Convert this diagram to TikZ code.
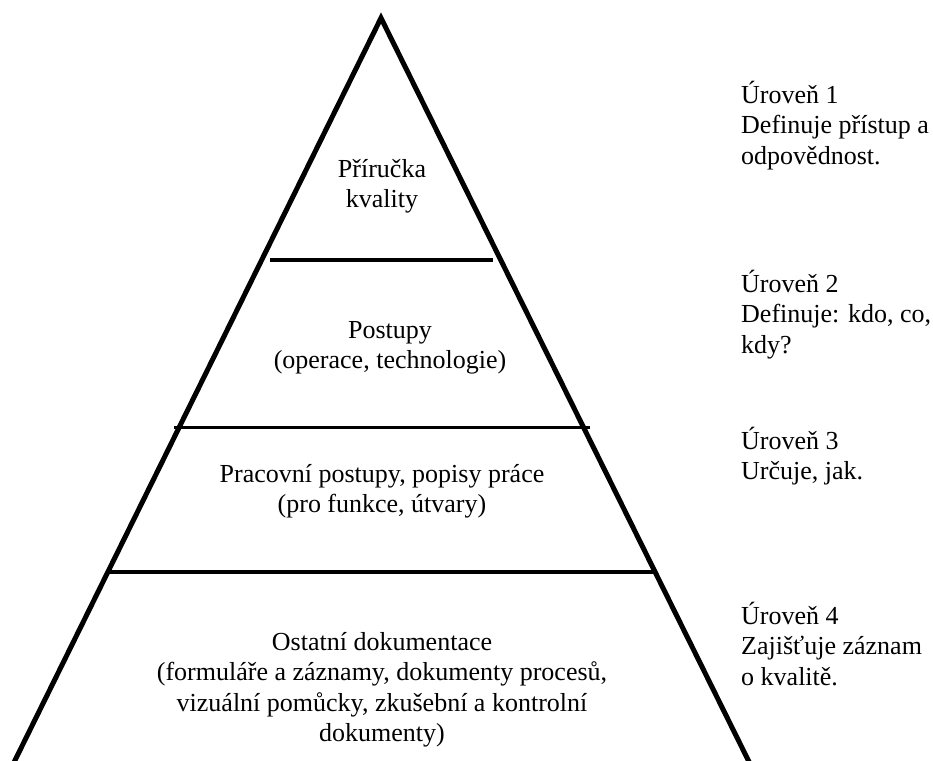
\documentclass[tikz,border=0pt]{standalone}
\usepackage{fontspec}
\setmainfont{Liberation Serif}
\begin{document}
\begin{tikzpicture}[x=1pt,y=-1pt,
  edge/.style={line width=5pt,line join=miter},
  divider/.style={line width=4pt},
  tiertext/.style={anchor=base,inner sep=0pt,font=\fontsize{26}{30.5}\selectfont},
  sidetext/.style={anchor=base west,inner sep=0pt,font=\fontsize{26}{30.5}\selectfont}]
\useasboundingbox (0,0) rectangle (933,760);
\begin{scope}
\clip (0,0) rectangle (933,760);
% pyramid outline (base runs past the lower edge)
\coordinate (apex) at (381,18);
\coordinate (baseL) at (5.3,780);
\coordinate (baseR) at (758,780);
\draw[edge] (baseL) -- (apex) -- (baseR);
\end{scope}
% tier dividers
\coordinate (d1l) at (270,259.5); \coordinate (d1r) at (493,259.5);
\coordinate (d2l) at (174,427.5); \coordinate (d2r) at (590,427.5);
\coordinate (d3l) at (110,572);   \coordinate (d3r) at (655,572);
\draw[divider] (d1l) -- (d1r);
\draw[divider,line width=3.6pt] (d2l) -- (d2r);
\draw[divider] (d3l) -- (d3r);
% tier labels
\node[tiertext] (t1) at (382,177) {\parbox[t]{600pt}{\centering Příručka\\kvality}};
\node[tiertext] (t2) at (390,338) {\parbox[t]{600pt}{\centering Postupy\\(operace, technologie)}};
\node[tiertext] (t3) at (382,482) {\parbox[t]{600pt}{\centering Pracovní postupy, popisy práce\\(pro funkce, útvary)}};
\node[tiertext] (t4) at (382,650) {\parbox[t]{600pt}{\centering Ostatní dokumentace\\(formuláře a záznamy, dokumenty procesů,\\vizuální pomůcky, zkušební a kontrolní\\dokumenty)}};
% level descriptions
\node[sidetext] (s1) at (741,103) {\parbox[t]{200pt}{\raggedright Úroveň 1\\Definuje přístup a\\odpovědnost.}};
\node[sidetext] (s2) at (741,292) {\parbox[t]{200pt}{\raggedright Úroveň 2\\Definuje: kdo, co,\\kdy?}};
\node[sidetext] (s3) at (741,449) {\parbox[t]{200pt}{\raggedright Úroveň 3\\Určuje, jak.}};
\node[sidetext] (s4) at (741,624) {\parbox[t]{200pt}{\raggedright Úroveň 4\\Zajišťuje záznam\\o kvalitě.}};
\end{tikzpicture}
\end{document}
